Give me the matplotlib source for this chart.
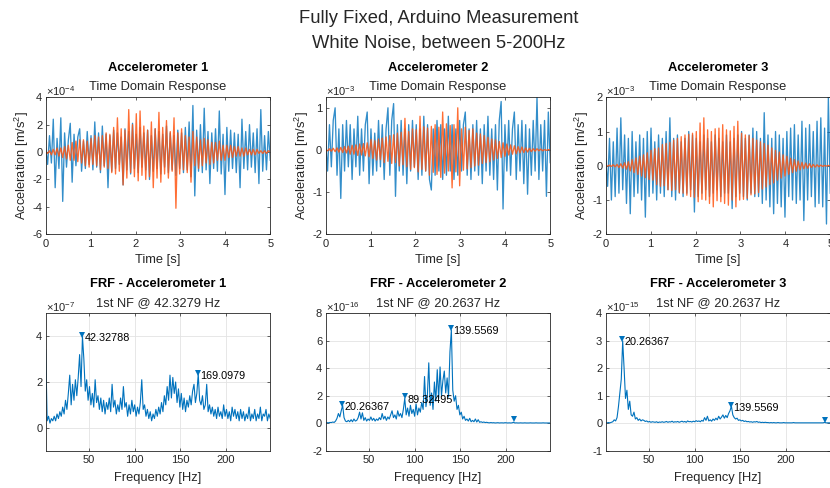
import numpy as np
import matplotlib
matplotlib.use('Agg')
import matplotlib.pyplot as plt

plt.rcParams['font.family'] = ['Liberation Sans', 'DejaVu Sans']
plt.rcParams['axes.unicode_minus'] = False
plt.rcParams['mathtext.fontset'] = 'custom'
plt.rcParams['mathtext.rm'] = 'Liberation Sans'
plt.rcParams['mathtext.it'] = 'Liberation Sans:italic'

BLUE = '#0072BD'
ORANGE = '#FF5511'
DARK = '#262626'

# time domain, accelerometer 1 (units 1e-5 m/s^2)
acc1_in = [3, -9, 12, -8, 24, -26, 10, -12, 25, -36,
           14, -11, 9, 21, -22, 13, -10, 11, 17, -14,
           8, -12, 15, -9, 12, -13, 22, -11, 14, -15,
           19, -10, 13, -26, 12, -14, 16, -12, 14, -9,
           11, -24, 17, -13, 15, -16, 21, -12, 13, -15,
           18, -11, 14, -13, 16, -20, 12, -14, 17, -12,
           15, -16, 13, -11, 19, -15, 14, -13, 12, -17,
           16, -12, 14, -15, 18, -13, 22, -18, 34, -32,
           16, -14, 20, -15, 32, -13, 15, -23, 14, -12,
           17, -14, 30, -16, 13, -31, 18, -14, 16, -12,
           14, -15, 13, -26, 24, -12, 15, -13, 20, -11,
           14, -15, 17, -23, 31, -14, 12, -13, 15, -6]
acc1_out = [0, -1, 1, -2, 2, -2, 3, -3, 3, -4,
            4, -5, 5, -6, 7, -6, 8, -7, 9, -8,
            9, -10, 8, -11, 10, -9, 12, -10, 11, -13,
            12, -11, 14, -12, 13, -15, 18, -16, 25, -14,
            17, -24, 16, -19, 31, -15, 20, -18, 28, -21,
            30, -17, 19, -20, 16, -18, 22, -26, 17, -19,
            29, -22, 18, -16, 23, -19, 15, -14, 25, -41,
            14, -16, 17, -13, 12, -15, 11, -22, 15, -10,
            11, -12, 9, -10, 10, -8, 9, -9, 7, -8,
            7, -6, 8, -6, 5, -6, 5, -4, 5, -4,
            4, -3, 4, -3, 3, -3, 3, -2, 2, -2,
            2, -2, 2, -1, 1, -1, 1, -1, 1, 0]

# time domain, accelerometer 2 (units 1e-4 m/s^2)
acc2_in = [2, -5, 6, -4, 7, 10, -6, 5, -11.5, 6,
           -5, 7, -4, 6, -7, 5, -4, 8, -6, 5,
           -5, 6, 9, -8, 5, -6, 4, -5, 7, -4,
           6, -7, 5, 10, -6, 7, 11, -11, 6, -5,
           7, -6, 5, -8, 6, -5, 7, -4, 6, -7,
           5, -6, 8, -5, 6, -7, -9.5, 5, -6, 7,
           -5, 6, -7, 5, -6, 8, -5, 6, -7, 5,
           -6, 7, -5, 6, 9, -6, 5, -7, 6, -5,
           7, -6, 5, -8, 6, -5, 8, -6, 5, -7,
           6, -9.5, 7, 11.5, -14, 6, -5, 7, -6, 5,
           9, -7, 6, -5, 7, -8, 6, -10.5, 5, -6,
           7, -5, 12.5, -7, 6, -5, 7, -11, 9, -3]
acc2_out = [0, -0.2, 0.3, -0.3, 0.4, -0.4, 0.5, -0.5, 0.6, -0.6,
            0.8, -0.7, 0.9, -1.0, 1.1, -1.0, 1.2, -1.3, 1.4, -1.2,
            1.5, -1.4, 1.7, -1.6, 2.5, -2.0, 2.2, -2.4, 2.6, -2.3,
            2.8, -3.0, 3.1, -2.7, 3.4, -3.2, 3.6, -3.0, 4.0, -3.8,
            4.2, -3.5, 7.5, -4.0, 4.4, -4.6, 5.0, -4.2, 4.8, -5.2,
            8.0, -4.6, 5.5, -5.0, 5.2, -6.0, 5.6, -5.3, 6.0, -5.8,
            5.4, -6.5, 9.0, -5.5, 6.2, -5.0, 5.8, -9.0, 6.0, -5.2,
            10.0, -8.5, 5.0, -4.8, 5.4, -4.5, 4.6, -4.2, 5.0, -3.8,
            4.0, -3.6, 3.8, -3.2, 3.4, -3.0, 3.0, -2.8, 2.6, -2.4,
            2.4, -2.0, 2.0, -1.8, 1.7, -1.5, 1.4, -1.2, 1.2, -1.0,
            1.0, -0.9, 0.8, -0.7, 0.7, -0.6, 0.5, -0.5, 0.4, -0.4,
            0.3, -0.3, 0.3, -0.2, 0.2, -0.2, 0.1, -0.1, 0.1, 0]

# time domain, accelerometer 3 (units 1e-4 m/s^2)
acc3_in = [2, -6, 8, -10, 7, -9, 11, -8, 14, -7,
           9, -11, 8, -14, 10, -9, 7, -8, 9, -10,
           8, -15, 10, -9, 11, -8, 7, -10, 9, -8,
           8, -9, 10, -7, 14, -9, 8, -10, 9, -8,
           7, -9, 8, -8, 10, -7, 9, -13.5, 8, -9,
           7, -8, 9, -7, 8, -9, 7, -8, 9, -7,
           8, -9, 7, -8, 9, -8, 7, -12.5, 8, -9,
           9, -8, 10, -9, 8, -10, 9, -8, 11, -9,
           10, -9, 8, -11, 15.5, -10, 9, -12, 8, -14,
           10, -11, 9, -12, 8, -15, 10, -9, 11, -10,
           12, -11, 9, -10, 13, -16, 11, -10, 12, -9,
           10, -12, 13, -11, 14, -12, 11, -17, 20, -8]
acc3_out = [0, -0.1, 0.2, -0.2, 0.3, -0.3, 0.4, -0.5, 0.6, -0.7,
            0.9, -1.0, 1.2, -1.5, 1.8, -2.0, 2.3, -2.5, 2.8, -3.0,
            3.2, -3.5, 3.8, -4.0, 4.5, -4.2, 5.0, -5.5, 5.2, -6.0,
            6.2, -5.8, 6.5, -7.0, 6.8, -7.2, 7.5, -7.0, 8.0, -7.8,
            8.5, -8.0, 9.0, -8.6, 9.2, -9.0, 9.5, -9.2, 10.0, -10.5,
            12.5, -9.8, 14.0, -10.0, 10.5, -11.0, 10.0, -12.0, 10.8, -10.2,
            11.0, -10.5, 12.0, -11.0, 10.5, -11.5, 10.2, -10.0, 11.5, -12.0,
            13.0, -10.0, 9.5, -9.8, 9.0, -9.5, 8.8, -8.5, 8.0, -8.2,
            7.5, -7.8, 7.0, -6.8, 6.5, -6.2, 6.0, -5.5, 5.2, -5.0,
            4.5, -4.2, 4.0, -3.6, 3.2, -3.0, 2.8, -2.5, 2.2, -2.0,
            1.8, -1.6, 1.4, -1.2, 1.0, -0.9, 0.8, -0.7, 0.6, -0.5,
            0.4, -0.4, 0.3, -0.3, 0.2, -0.2, 0.1, -0.1, 0.1, 0]

# FRF magnitudes, 2.44 .. 248.5 Hz
frf1 = [3.4, 0.3, 0.5, 0.2, 0.4, 0.3, 0.5, 0.3, 0.6, 0.4,
        0.7, 0.5, 0.9, 0.6, 1.2, 0.8, 1.5, 2.3, 1.0, 1.9,
        1.2, 2.1, 1.4, 2.2, 3.2, 1.8, 4.0, 3.0, 1.6, 2.1,
        1.2, 1.8, 1.0, 1.5, 0.9, 2.1, 1.1, 1.4, 0.8, 1.3,
        0.7, 1.2, 0.6, 1.1, 0.8, 1.3, 0.7, 1.9, 0.9, 1.2,
        0.6, 1.0, 0.7, 1.3, 0.8, 1.8, 0.9, 1.1, 0.5, 1.0,
        0.6, 1.2, 0.7, 1.0, 0.5, 0.9, 0.6, 1.1, 2.1, 0.8,
        1.0, 0.5, 0.8, 0.4, 0.7, 0.3, 0.6, 0.4, 0.8, 0.5,
        0.9, 0.6, 1.1, 0.7, 1.4, 1.0, 1.8, 1.2, 2.3, 1.3,
        2.2, 1.5, 2.0, 1.1, 1.7, 0.9, 1.5, 0.8, 1.3, 0.7,
        1.2, 0.9, 1.4, 1.0, 1.6, 1.9, 1.1, 1.5, 2.35, 1.2,
        1.0, 1.4, 0.8, 1.0, 1.9, 0.7, 1.0, 0.6, 0.9, 0.5,
        0.8, 0.4, 0.9, 0.5, 0.7, 0.4, 1.0, 0.5, 0.8, 0.4,
        0.7, 0.3, 0.9, 0.5, 0.8, 0.4, 0.7, 0.3, 0.8, 0.4,
        0.7, 0.3, 0.6, 0.4, 0.9, 0.3, 0.6, 0.4, 0.8, 0.3,
        0.6, 0.4, 0.9, 0.3, 0.6, 0.5, 0.8, 0.3, 0.6, 0.4]
frf2 = [0.02, 0.03, 0.02, 0.05, 0.04, 0.08, 0.05, 0.15, 0.35, 0.7,
        0.45, 0.9, 1.3, 0.4, 0.15, 0.1, 0.2, 0.1, 0.25, 0.1,
        0.3, 0.15, 0.2, 0.4, 0.8, 0.3, 0.75, 0.2, 0.4, 0.15,
        0.3, 0.2, 0.45, 0.2, 0.35, 0.15, 0.3, 0.2, 0.4, 0.25,
        0.7, 0.3, 0.5, 0.2, 0.45, 0.3, 0.6, 0.9, 0.4, 0.6,
        0.3, 0.9, 0.5, 0.7, 0.4, 1.0, 1.8, 0.6, 1.1, 0.5,
        1.3, 0.7, 1.0, 0.5, 1.4, 0.6, 1.1, 0.8, 1.5, 1.0,
        3.4, 1.2, 2.0, 4.4, 1.3, 2.2, 1.0, 3.0, 1.6, 3.9,
        1.8, 4.1, 2.0, 3.1, 3.8, 2.2, 3.3, 1.9, 5.2, 6.8,
        2.4, 1.6, 2.0, 1.0, 1.3, 0.6, 0.8, 0.3, 0.5, 0.2,
        0.3, 0.15, 0.35, 0.1, 0.2, 0.1, 0.3, 0.08, 0.25, 0.06,
        0.1, 0.05, 0.08, 0.04, 0.06, 0.03, 0.02, 0.04, 0.02, 0.03,
        0.01, 0.02, 0.03, 0.01, 0.02, 0.02, 0.01, 0.03, 0.02, 0.01,
        0.02, 0.01, 0.02, 0.06, 0.01, 0.02, 0.01, 0.01, 0.02, 0.01,
        0.01, 0.02, 0.01, 0.01, 0.01, 0.02, 0.01, 0.01, 0.01, 0.02,
        0.01, 0.01, 0.01, 0.01, 0.02, 0.01, 0.01, 0.01, 0.01, 0.01]
frf3 = [0.01, 0.01, 0.02, 0.01, 0.03, 0.05, 0.12, 0.08, 0.2, 0.6,
        1.1, 1.6, 3.0, 2.0, 0.9, 1.2, 0.5, 0.8, 0.3, 0.25,
        0.4, 0.15, 0.2, 0.1, 0.15, 0.08, 0.12, 0.1, 0.06, 0.08,
        0.04, 0.06, 0.03, 0.05, 0.04, 0.03, 0.05, 0.02, 0.04, 0.03,
        0.05, 0.03, 0.04, 0.06, 0.03, 0.05, 0.04, 0.07, 0.03, 0.05,
        0.04, 0.06, 0.03, 0.05, 0.07, 0.04, 0.06, 0.03, 0.08, 0.05,
        0.06, 0.04, 0.07, 0.05, 0.09, 0.06, 0.08, 0.05, 0.1, 0.07,
        0.2, 0.1, 0.25, 0.08, 0.12, 0.07, 0.15, 0.1, 0.18, 0.12,
        0.25, 0.15, 0.22, 0.3, 0.18, 0.28, 0.2, 0.35, 0.45, 0.62,
        0.3, 0.2, 0.15, 0.18, 0.1, 0.12, 0.08, 0.1, 0.06, 0.08,
        0.05, 0.06, 0.04, 0.05, 0.03, 0.05, 0.04, 0.06, 0.03, 0.04,
        0.02, 0.03, 0.02, 0.03, 0.02, 0.02, 0.01, 0.02, 0.01, 0.02,
        0.01, 0.01, 0.02, 0.01, 0.01, 0.01, 0.02, 0.01, 0.01, 0.01,
        0.01, 0.01, 0.01, 0.02, 0.01, 0.01, 0.01, 0.01, 0.01, 0.01,
        0.01, 0.01, 0.01, 0.01, 0.01, 0.01, 0.01, 0.01, 0.01, 0.01,
        0.01, 0.01, 0.01, 0.01, 0.01, 0.03, 0.01, 0.01, 0.01, 0.01]

# findpeaks markers (freq, marker height, label)
pk1_f = [42.32788, 169.0979]
pk1_v = [4.06, 2.40]
pk1_lbl = ['42.32788', '169.0979']
pk2_f = [20.26367, 89.32495, 139.5569, 208.3]
pk2_v = [1.40, 1.95, 6.95, 0.30]
pk2_lbl = ['20.26367', '89.32495', '139.5569', '']
pk3_f = [20.26367, 139.5569, 243.1]
pk3_v = [3.08, 0.67, 0.10]
pk3_lbl = ['20.26367', '139.5569', '']

nf_text = ['1st NF @ 42.3279 Hz', '1st NF @ 20.2637 Hz', '1st NF @ 20.2637 Hz']

f_lo, f_hi = 2.44, 248.5

fig = plt.figure(figsize=(8.3, 4.88), dpi=100)
fig.text(0.528, 0.963, 'Fully Fixed, Arduino Measurement', ha='center', va='center',
         fontsize=13.2, color=DARK)
fig.text(0.528, 0.912, 'White Noise, between 5-200Hz', ha='center', va='center',
         fontsize=13.2, color=DARK)

lefts = [0.0551, 0.3924, 0.7298]
W, H = 0.2705, 0.2808


def style(ax):
    for s in ax.spines.values():
        s.set_linewidth(0.6)
        s.set_color(DARK)
    ax.tick_params(direction='in', length=2.5, width=0.5, top=True, right=True,
                   labelsize=8, colors=DARK, pad=3.5)
    ax.tick_params(axis='y', pad=2.5)


def heads(ax, t1, t2, expo):
    ax.text(0.5, 1.212, t1, transform=ax.transAxes, ha='center', va='center',
            fontsize=9.3, fontweight='bold', color='k')
    ax.text(0.5, 1.073, t2, transform=ax.transAxes, ha='center', va='center',
            fontsize=9.3, color=DARK)
    ax.text(0.0, 1.045, r'$\times$10$^{%s}$' % expo, transform=ax.transAxes,
            ha='left', va='center', fontsize=8, color=DARK)


# every series is stored one decade below the axis exponent -> scale by 0.1
top = [(acc1_in, acc1_out, (-6, 4), [-6, -4, -2, 0, 2, 4], '-4'),
       (acc2_in, acc2_out, (-2, 1.25), [-2, -1, 0, 1], '-3'),
       (acc3_in, acc3_out, (-2, 2), [-2, -1, 0, 1, 2], '-3')]

for k, (sin, sout, yl, yt, expo) in enumerate(top):
    ax = fig.add_axes([lefts[k], 0.5199, W, H])
    t = np.linspace(0, 5, len(sin))
    ax.plot(t, np.array(sin) * 0.1, color=BLUE, lw=0.95, alpha=0.8)
    t2 = np.linspace(0, 5, len(sout))
    ax.plot(t2, np.array(sout) * 0.1, color=ORANGE, lw=0.95, alpha=0.85)
    ax.set_xlim(0, 5)
    ax.set_ylim(*yl)
    ax.set_yticks(yt)
    ax.set_xticks([0, 1, 2, 3, 4, 5])
    style(ax)
    heads(ax, 'Accelerometer %d' % (k + 1), 'Time Domain Response', expo)
    ax.set_xlabel('Time [s]', fontsize=9.3, color=DARK)
    ax.xaxis.set_label_coords(0.5, -0.145)
    ax.set_ylabel('Acceleration [m/s$^2$]', fontsize=9.3, color=DARK)
    ax.yaxis.set_label_coords(-0.065, 0.5)

bottom = [(frf1, pk1_f, pk1_v, pk1_lbl, (-1, 5), [0, 2, 4], '-7'),
          (frf2, pk2_f, pk2_v, pk2_lbl, (-2, 8), [-2, 0, 2, 4, 6, 8], '-16'),
          (frf3, pk3_f, pk3_v, pk3_lbl, (-1, 4), [-1, 0, 1, 2, 3, 4], '-15')]

for k, (mag, pf, pv, pl, yl, yt, expo) in enumerate(bottom):
    ax = fig.add_axes([lefts[k], 0.0768, W, H])
    f = np.linspace(f_lo, f_hi, len(mag))
    ax.grid(True, color='#E3E3E3', lw=0.6)
    ax.set_axisbelow(True)
    ax.plot(f, mag, color=BLUE, lw=0.8)
    ax.plot(pf, pv, 'v', color=BLUE, ms=5, mew=0)
    for x, y, s in zip(pf, pv, pl):
        if s:
            ax.annotate(s, (x, y), xytext=(2, -2.5), textcoords='offset points',
                        ha='left', va='center', fontsize=7.8, color='k')
    ax.set_xlim(f_lo, f_hi)
    ax.set_ylim(*yl)
    ax.set_yticks(yt)
    ax.set_xticks([50, 100, 150, 200])
    style(ax)
    heads(ax, 'FRF - Accelerometer %d' % (k + 1), nf_text[k], expo)
    ax.set_xlabel('Frequency [Hz]', fontsize=9.3, color=DARK)
    ax.xaxis.set_label_coords(0.5, -0.16)

fig.savefig('out.png', dpi=100)
